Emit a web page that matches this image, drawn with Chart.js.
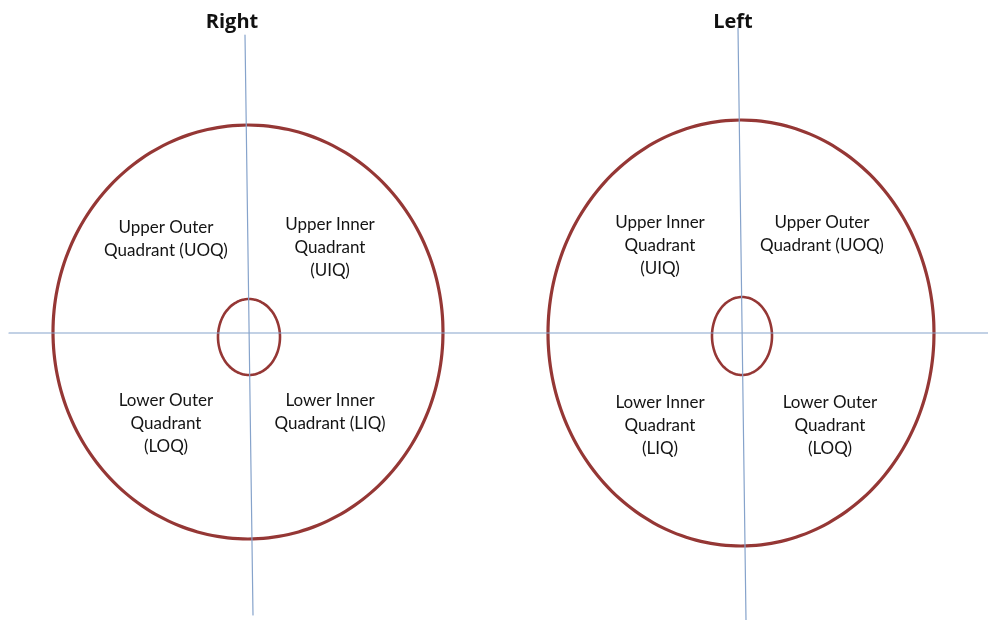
<!DOCTYPE html>
<html>
<head>
<meta charset="utf-8">
<script src="https://cdn.jsdelivr.net/npm/chart.js@4.4.1/dist/chart.umd.min.js"></script>
<style>
  html, body { margin: 0; padding: 0; background: #ffffff; }
  #wrap { width: 988px; height: 620px; }
</style>
</head>
<body>
<div id="wrap"><canvas id="breastQuadrants" width="988" height="620"></canvas></div>
<script>
// diagram space: x 0..988 left to right, y 0..620 top to bottom
const panelTitles = ['Right', 'Left'];
const titleX = [232, 733];
const titleY = [22, 22];

// vertical axis of each panel [top, bottom]
const vAxisX = [[245, 253], [738, 746]];
const vAxisY = [[35, 615], [28, 620]];
// one horizontal axis across both panels
const hAxisX = [9, 988];
const hAxisY = [333, 333];

// outer breast outline and nipple-areola outline, per panel
const outerCx = [248, 741];
const outerCy = [332, 333];
const outerRx = [195, 193];
const outerRy = [207, 213];
const innerCx = [249, 742];
const innerCy = [337, 336];
const innerRx = [31, 30];
const innerRy = [38, 39];

// quadrant labels: text lines, centre x, first line y
const quadrantText = [
  ['Upper Outer', 'Quadrant (UOQ)'],
  ['Upper Inner', 'Quadrant', '(UIQ)'],
  ['Lower Outer', 'Quadrant', '(LOQ)'],
  ['Lower Inner', 'Quadrant (LIQ)'],
  ['Upper Inner', 'Quadrant', '(UIQ)'],
  ['Upper Outer', 'Quadrant (UOQ)'],
  ['Lower Inner', 'Quadrant', '(LIQ)'],
  ['Lower Outer', 'Quadrant', '(LOQ)']
];
const quadrantX = [166, 330, 166, 330, 660, 822, 660, 830];
const quadrantY = [228, 225, 401, 401, 223, 223, 403, 403];

const axisColor = '#86a3cb';
const outlineColor = '#953735';

function ellipsePoints(cx, cy, rx, ry) {
  const pts = [];
  const n = 120;
  for (let i = 0; i <= n; i++) {
    const t = (i / n) * Math.PI * 2;
    pts.push({ x: cx + rx * Math.cos(t), y: cy + ry * Math.sin(t) });
  }
  return pts;
}

const datasets = [];
datasets.push({
  label: 'horizontal axis',
  data: [{ x: hAxisX[0], y: hAxisY[0] }, { x: hAxisX[1], y: hAxisY[1] }],
  borderColor: axisColor, borderWidth: 1.2, tension: 0
});
for (let p = 0; p < panelTitles.length; p++) {
  datasets.push({
    label: panelTitles[p] + ' vertical axis',
    data: [{ x: vAxisX[p][0], y: vAxisY[p][0] }, { x: vAxisX[p][1], y: vAxisY[p][1] }],
    borderColor: axisColor, borderWidth: 1.2, tension: 0
  });
  datasets.push({
    label: panelTitles[p] + ' outline',
    data: ellipsePoints(outerCx[p], outerCy[p], outerRx[p], outerRy[p]),
    borderColor: outlineColor, borderWidth: 3.2, tension: 0.3
  });
  datasets.push({
    label: panelTitles[p] + ' areola',
    data: ellipsePoints(innerCx[p], innerCy[p], innerRx[p], innerRy[p]),
    borderColor: outlineColor, borderWidth: 2.6, tension: 0.3
  });
}
datasets.forEach(d => {
  d.showLine = true;
  d.pointRadius = 0;
  d.pointHoverRadius = 0;
  d.borderJoinStyle = 'round';
  d.borderCapStyle = 'round';
  d.fill = false;
  d.clip = false;
});

const labelPlugin = {
  id: 'diagramLabels',
  afterDatasetsDraw(chart) {
    const ctx = chart.ctx;
    const xs = chart.scales.x, ys = chart.scales.y;
    ctx.save();
    ctx.textAlign = 'center';
    ctx.textBaseline = 'middle';
    ctx.fillStyle = '#111111';
    ctx.font = 'bold 20px "Open Sans", sans-serif';
    for (let p = 0; p < panelTitles.length; p++) {
      ctx.fillText(panelTitles[p], xs.getPixelForValue(titleX[p]), ys.getPixelForValue(titleY[p]));
    }
    ctx.fillStyle = '#141414';
    ctx.font = '17px Lato, sans-serif';
    for (let q = 0; q < quadrantText.length; q++) {
      quadrantText[q].forEach((line, i) => {
        ctx.fillText(line, xs.getPixelForValue(quadrantX[q]), ys.getPixelForValue(quadrantY[q] + i * 23));
      });
    }
    ctx.restore();
  }
};

const chart_breastQuadrants = new Chart(document.getElementById('breastQuadrants'), {
  type: 'scatter',
  data: { datasets: datasets },
  options: {
    animation: false,
    responsive: false,
    devicePixelRatio: 1,
    layout: { padding: 0 },
    plugins: {
      legend: { display: false },
      tooltip: { enabled: false },
      title: { display: false }
    },
    scales: {
      x: { type: 'linear', min: 0, max: 988, display: false },
      y: { type: 'linear', min: 0, max: 620, reverse: true, display: false }
    }
  },
  plugins: [labelPlugin, {
    id: 'whiteBackground',
    beforeDraw: (chart) => {
      const ctx = chart.canvas.getContext('2d');
      ctx.save();
      ctx.globalCompositeOperation = 'destination-over';
      ctx.fillStyle = 'white';
      ctx.fillRect(0, 0, chart.canvas.width, chart.canvas.height);
      ctx.restore();
    }
  }]
});
</script>
</body>
</html>
